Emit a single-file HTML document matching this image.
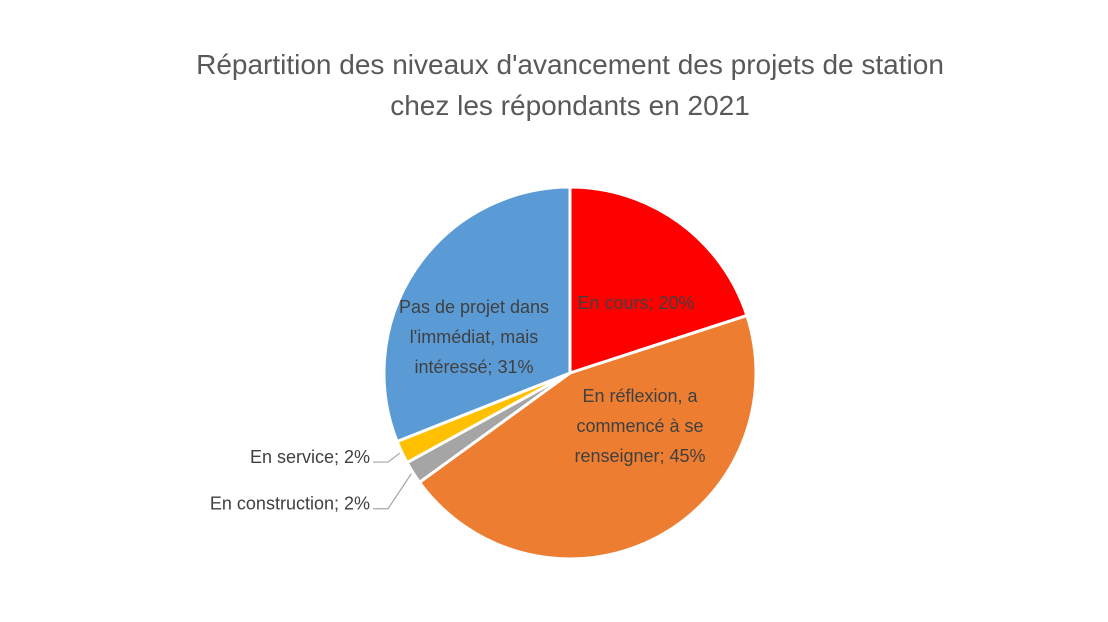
<!DOCTYPE html>
<html><head><meta charset="utf-8">
<style>
html,body{margin:0;padding:0;background:#fff;}
svg{display:block;font-family:"Liberation Sans",sans-serif;}
</style></head>
<body>
<svg id="chart" width="1108" height="622" viewBox="0 0 1108 622">
<text x="570" y="74" text-anchor="middle" font-size="28" fill="#595959">Répartition des niveaux d'avancement des projets de station</text>
<text x="570" y="115" text-anchor="middle" font-size="28" fill="#595959">chez les répondants en 2021</text>
<g id="slices"></g>
<g id="labels"></g>
</svg>
<script>
const categories = ["En cours","En réflexion, a commencé à se renseigner","En construction","En service","Pas de projet dans l'immédiat, mais intéressé"];
const values = [20,45,2,2,31];
const colors = ["#ff0000","#ed7d31","#a5a5a5","#ffc000","#5b9bd5"];
const labelLines = [["En cours; 20%"],["En réflexion, a","commencé à se","renseigner; 45%"],["En construction; 2%"],["En service; 2%"],["Pas de projet dans","l'immédiat, mais","intéressé; 31%"]];
const NS="http://www.w3.org/2000/svg";
const cx=570, cy=373, r=186;
const total=values.reduce((a,b)=>a+b,0);
function pt(a,rr){return [cx+rr*Math.sin(a), cy-rr*Math.cos(a)];}
const gS=document.getElementById('slices'), gL=document.getElementById('labels');
let acc=0;
values.forEach((v,i)=>{
  const a0=acc/total*2*Math.PI; acc+=v; const a1=acc/total*2*Math.PI;
  const p0=pt(a0,r), p1=pt(a1,r);
  const large=(a1-a0)>Math.PI?1:0;
  const p=document.createElementNS(NS,'path');
  p.setAttribute('d',`M${cx},${cy} L${p0[0]},${p0[1]} A${r},${r} 0 ${large} 1 ${p1[0]},${p1[1]} Z`);
  p.setAttribute('fill',colors[i]);
  p.setAttribute('stroke','#fff');
  p.setAttribute('stroke-width','3');
  
  
  gS.appendChild(p);
  const mid=(a0+a1)/2;
  let lx,ly,anchor;
  const small = v/total<0.05;
  if(small){
    const e=pt(mid,r+2);
    lx=cx-200; ly=e[1]+ (i===2?30:4);
    anchor='end';
    const ln=document.createElementNS(NS,'polyline');
    ln.setAttribute('points',`${lx+3},${ly+5} ${lx+18},${ly+5} ${e[0]},${e[1]}`);
    ln.setAttribute('fill','none');
    ln.setAttribute('stroke','#a6a6a6');
    ln.setAttribute('stroke-width','1.2');
    
    
    gL.appendChild(ln);
  } else {
    const m=pt(mid,r*0.45);
    lx=m[0]+(i===0?0:0); ly=m[1]; anchor='middle';
    if(i===0){lx=cx+66; ly=cy-70;}
    if(i===1){lx=cx+70; ly=cy+53;}
    if(i===4){lx=cx-96; ly=cy-36;}
  }
  const lines=labelLines[i];
  const lh=30;
  lines.forEach((s,k)=>{
    const t=document.createElementNS(NS,'text');
    t.setAttribute('x',lx);
    t.setAttribute('y',ly-(lines.length-1)*lh/2+k*lh+6);
    t.setAttribute('text-anchor',anchor);
    t.setAttribute('font-size','18');
    t.setAttribute('fill','#404040');
    
    
    t.textContent=s;
    gL.appendChild(t);
  });
});
</script>
</body></html>
